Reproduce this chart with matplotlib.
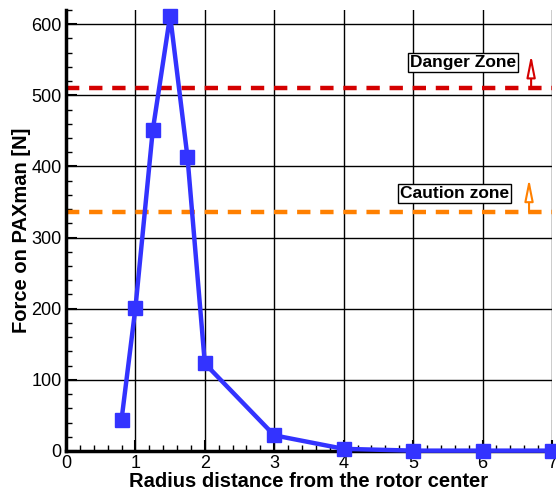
import matplotlib.pyplot as plt
from matplotlib.ticker import MultipleLocator

plt.rcParams['font.family'] = ['Liberation Sans', 'DejaVu Sans']

radius = [0.8, 1.0, 1.25, 1.5, 1.75, 2.0, 3.0, 4.0, 5.0, 6.0, 7.0]
force = [44, 201, 451, 612, 413, 123, 22, 3, 0.5, 0.5, 0.5]
danger_level = 510
caution_level = 336

fig = plt.figure(figsize=(5.56, 4.95), dpi=100)
ax = fig.add_axes([0.1187, 0.0889, 0.874, 0.891])

ax.grid(True, color='black', linewidth=1.0, zorder=0)
ax.axhline(danger_level, color='#d40000', linestyle=(0, (3, 2.2)), linewidth=3.2, zorder=2)
ax.axhline(caution_level, color='#ff8000', linestyle=(0, (3, 2.2)), linewidth=3.2, zorder=2)

ax.plot(radius, force, color='#3333ff', linewidth=3.2, marker='s', markersize=10,
        clip_on=False, zorder=5)

head = '-|>,head_length=1.1,head_width=0.22'
ax.annotate('', xy=(6.7, 557), xytext=(6.7, danger_level),
            arrowprops=dict(arrowstyle=head, ec='#d40000', fc='white', lw=1.5,
                            mutation_scale=12, shrinkA=0, shrinkB=0), zorder=3)
ax.annotate('', xy=(6.67, 383), xytext=(6.67, caution_level),
            arrowprops=dict(arrowstyle=head, ec='#ff8000', fc='white', lw=1.5,
                            mutation_scale=12, shrinkA=0, shrinkB=0), zorder=3)

box = dict(boxstyle='square,pad=0.12', facecolor='white', edgecolor='black', linewidth=1)
ax.text(5.72, 546, 'Danger Zone', fontsize=12.5, fontweight='bold', ha='center', va='center', bbox=box)
ax.text(5.6, 362, 'Caution zone', fontsize=12.5, fontweight='bold', ha='center', va='center', bbox=box)

ax.set_xlim(0, 7)
ax.set_ylim(0, 620)
ax.xaxis.set_major_locator(MultipleLocator(1))
ax.xaxis.set_minor_locator(MultipleLocator(0.2))
ax.yaxis.set_major_locator(MultipleLocator(100))
ax.yaxis.set_minor_locator(MultipleLocator(20))
ax.tick_params(which='major', direction='in', length=8, width=1.5, labelsize=13, pad=3)
ax.tick_params(which='minor', direction='in', length=4, width=1)

for s in ['top', 'right']:
    ax.spines[s].set_visible(False)
for s in ['left', 'bottom']:
    ax.spines[s].set_linewidth(2.5)

ax.set_xlabel('Radius distance from the rotor center', fontsize=14.5, fontweight='bold', labelpad=0)
ax.set_ylabel('Force on PAXman [N]', fontsize=14.5, fontweight='bold', labelpad=0)

plt.savefig('out.png')
